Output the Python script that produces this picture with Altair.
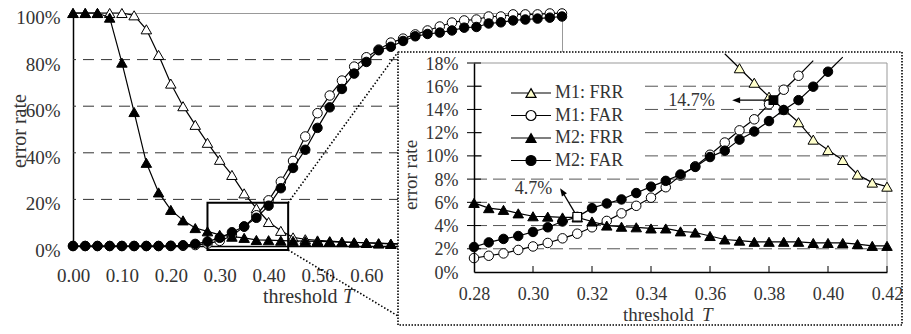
import altair as alt
import pandas as pd

FONT = "Liberation Serif"
TXT = "#333333"

SERIES = ["M1: FRR", "M1: FAR", "M2: FRR", "M2: FAR"]

# ---------------- main chart data (threshold step 0.025) ----------------
T_MAIN = [0.000, 0.025, 0.050, 0.075, 0.100, 0.125, 0.150, 0.175, 0.200, 0.225,
          0.250, 0.275, 0.300, 0.325, 0.350, 0.375, 0.400, 0.425, 0.450, 0.475,
          0.500, 0.525, 0.550, 0.575, 0.600, 0.625, 0.650, 0.675, 0.700, 0.725,
          0.750, 0.775, 0.800, 0.825, 0.850, 0.875, 0.900, 0.925, 0.950, 0.975, 1.000]
M1_FRR_MAIN = [100, 100, 100, 100, 100, 99, 93, 82, 69.7, 60,
               52, 44.3, 37, 30.5, 22.6, 16.2, 10.3, 6.5, 3.7, 2.9,
               2.4, 2.1, 1.8, 1.6, 1.4, 1.2, 1.0, 0.9, 0.8, 0.7,
               0.6, 0.5, 0.5, 0.4, 0.4, 0.3, 0.3, 0.2, 0.2, 0.2, 0.1]
M1_FAR_MAIN = [0, 0, 0, 0, 0, 0, 0, 0, 0, 0.1,
               0.4, 1.0, 2.2, 4.4, 8.3, 13.2, 19.6, 27.6, 36.5, 47,
               57, 64.6, 71, 77, 81, 84.3, 87.3, 89, 90.8, 92.5,
               94.2, 95.9, 96.8, 97.2, 98.5, 98.5, 99.4, 99.4, 99.4, 99.8, 99.8]
M2_FRR_MAIN = [100, 100, 100, 98, 78.7, 57.5, 35.7, 23, 15.5, 11,
               7.7, 6.3, 4.8, 4.0, 3.5, 2.6, 2.5, 2.3, 2.2, 2.1,
               2.0, 1.9, 1.7, 1.5, 1.3, 1.1, 0.9, 0.8, 0.7, 0.6,
               0.5, 0.5, 0.4, 0.4, 0.3, 0.3, 0.2, 0.2, 0.2, 0.1, 0.1]
M2_FAR_MAIN = [0, 0, 0, 0, 0, 0, 0, 0, 0.1, 0.3,
               0.9, 1.9, 3.5, 5.9, 8.4, 12.1, 17.3, 24.8, 33.5, 41.3,
               50.7, 59.5, 67.4, 74, 79, 84, 85.5, 88, 90, 91,
               91.6, 92.5, 93.7, 94, 95.5, 96, 96.8, 97.2, 97.6, 98, 98.5]

# ---------------- inset data (threshold step 0.005) ----------------
T_INSET = [0.280, 0.285, 0.290, 0.295, 0.300, 0.305, 0.310, 0.315, 0.320, 0.325,
           0.330, 0.335, 0.340, 0.345, 0.350, 0.355, 0.360, 0.365, 0.370, 0.375,
           0.380, 0.385, 0.390, 0.395, 0.400, 0.405, 0.410, 0.415, 0.420]
M1_FRR_INSET = [None, None, None, None, None, None, None, None, None, None,
                None, None, None, None, None, None, None, 18.8, 17.55, 16.3,
                15.1, 14.0, 12.9, 11.4, 10.5, 9.65, 8.4, 7.7, 7.35]
M1_FAR_INSET = [1.2, 1.4, 1.6, 1.9, 2.2, 2.5, 2.9, 3.3, 3.85, 4.4,
                5.05, 5.7, 6.4, 7.3, 8.3, 9.1, 10.1, 11.15, 12.2, 13.15,
                14.45, 15.7, 16.9, 18.2, None, None, None, None, None]
M2_FRR_INSET = [5.95, 5.5, 5.35, 5.05, 4.8, 4.77, 4.7, 4.7, 4.35, 4.0,
                3.9, 3.85, 3.75, 3.75, 3.5, 3.4, 3.1, 2.8, 2.7, 2.6,
                2.6, 2.6, 2.6, 2.5, 2.5, 2.5, 2.4, 2.25, 2.25]
M2_FAR_INSET = [2.15, 2.55, 2.85, 3.1, 3.45, 3.85, 4.35, 4.75, 5.5, 5.9,
                6.25, 6.8, 7.35, 7.85, 8.4, 9.05, 9.9, 10.45, 11.4, 12.1,
                13.0, 13.95, 14.8, 15.96, 17.25, 18.5, None, None, None]

# equal error rate points and labels
EER_T = [0.315, 0.3815]
EER_V = [4.75, 14.8]
EER_LABEL = ["4.7%", "14.7%"]
EER_LABEL_T = [0.3002, 0.3537]
EER_LABEL_V = [7.19, 14.69]

# ticks / gridlines
MAIN_X_TICKS = [0.0, 0.1, 0.2, 0.3, 0.4, 0.5, 0.6]
MAIN_Y_TICKS = [0, 20, 40, 60, 80, 100]
MAIN_GRID = [20, 40, 60, 80]
INSET_X_TICKS = [0.28, 0.30, 0.32, 0.34, 0.36, 0.38, 0.40, 0.42]
INSET_Y_TICKS = [0, 2, 4, 6, 8, 10, 12, 14, 16, 18]
INSET_GRID = [2, 4, 6, 8, 10, 12, 14, 16]

# zoom box in main chart coordinates
ZOOM_T = [0.275, 0.44]
ZOOM_V = [-1.7, 18.6]

# ---------------- layout (pixels inside the main view) ----------------
W, H = 489, 233
IX0, IX1 = 401, 814          # inset plot x range
IY0, IY1 = 259, 50           # inset plot y range (0% -> 18%)
BX0, BX1, BY0, BY1 = 325, 829, 39, 312   # inset dotted frame
LX0, LX1, LY0, LY1 = 409, 568, 59, 157   # legend background

xs_main = alt.Scale(domain=[0, 1], nice=False, zero=False)
ys_main = alt.Scale(domain=[0, 100], nice=False, zero=False)
xs_in = alt.Scale(domain=[0.28, 0.42], range=[IX0, IX1], nice=False, zero=False)
ys_in = alt.Scale(domain=[0, 18], range=[IY0, IY1], nice=False, zero=False)

ax_main_x = alt.Axis(orient="bottom", values=MAIN_X_TICKS, format=".2f", ticks=False, grid=False,
                     domainColor="black", domainWidth=1.5, labelFont=FONT, labelFontSize=19,
                     labelColor=TXT, labelPadding=20, labelFlush=False, labelOverlap=False, title=None)
ax_main_y = alt.Axis(orient="left", values=MAIN_Y_TICKS, labelExpr="datum.value + '%'", ticks=False,
                     grid=False, domainColor="black", domainWidth=1.5, labelFont=FONT, labelFontSize=19,
                     labelColor=TXT, labelPadding=13, labelOffset=4.5, labelOverlap=False, title=None)
ax_in_x = alt.Axis(orient="bottom", offset=IY0 - H, values=INSET_X_TICKS, format=".2f", ticks=False,
                   grid=False, domainColor="black", domainWidth=1.5, labelFont=FONT, labelFontSize=18,
                   labelColor=TXT, labelPadding=13, labelFlush=False, labelOverlap=False, title=None, zindex=1)
ax_in_y = alt.Axis(orient="left", offset=-IX0, values=INSET_Y_TICKS, labelExpr="datum.value + '%'",
                   ticks=False, grid=False, domainColor="black", domainWidth=1.5, labelFont=FONT,
                   labelFontSize=18, labelColor=TXT, labelPadding=16, labelOffset=1, labelOverlap=False,
                   title=None, zindex=1)

ONE = pd.DataFrame({"k": [0]})


def series_layers(T, vals, shape, fill, size, xs, ys, ax, ay, ymax=None):
    df = pd.DataFrame({"T": T, "v": vals}).dropna()
    x = alt.X("T:Q", scale=xs, axis=ax)
    y = alt.Y("v:Q", scale=ys, axis=ay)
    line = alt.Chart(df).mark_line(color="black", strokeWidth=1.2).encode(x=x, y=y)
    pdf = df if ymax is None else df[df["v"] <= ymax]
    pts = alt.Chart(pdf).mark_point(shape=shape, filled=True, fill=fill, stroke="black",
                                    strokeWidth=1, size=size, opacity=1).encode(x=x, y=y)
    return [line, pts]


def text_px(s, x, y, size, angle=0, italic=False, align="left", baseline="alphabetic"):
    return alt.Chart(pd.DataFrame({"s": [s]})).mark_text(
        font=FONT, fontSize=size, color=TXT, align=align, baseline=baseline, angle=angle,
        fontStyle="italic" if italic else "normal").encode(
        text="s:N", x=alt.value(x), y=alt.value(y))


SHAPES = ["triangle-up", "circle", "triangle-up", "circle"]
SIZES = [110, 90, 110, 90]
MAIN_FILLS = ["white", "white", "black", "black"]
INSET_FILLS = ["#FFFFCC", "white", "black", "black"]

# ---------------- main chart ----------------
main_layers = [
    alt.Chart(pd.DataFrame({"v": MAIN_GRID})).mark_rule(color="#333", strokeWidth=1, strokeDash=[11, 7])
    .encode(y=alt.Y("v:Q", scale=ys_main, axis=ax_main_y)),
]
for vals, shp, fc, sz in zip([M1_FRR_MAIN, M1_FAR_MAIN, M2_FRR_MAIN, M2_FAR_MAIN], SHAPES, MAIN_FILLS, SIZES):
    main_layers += series_layers(T_MAIN, vals, shp, fc, sz, xs_main, ys_main, ax_main_x, ax_main_y)

zoom_df = pd.DataFrame({"t0": [ZOOM_T[0]], "t1": [ZOOM_T[1]], "v0": [ZOOM_V[0]], "v1": [ZOOM_V[1]]})
main_layers += [
    alt.Chart(zoom_df).mark_rect(fillOpacity=0, stroke="black", strokeWidth=2).encode(
        x=alt.X("t0:Q", scale=xs_main, axis=ax_main_x), x2="t1:Q",
        y=alt.Y("v0:Q", scale=ys_main, axis=ax_main_y), y2="v1:Q"),
    alt.Chart(zoom_df).mark_rule(color="black", strokeWidth=1.6, strokeDash=[1.5, 2]).encode(
        x=alt.X("t1:Q", scale=xs_main, axis=ax_main_x), y=alt.Y("v1:Q", scale=ys_main, axis=ax_main_y),
        x2=alt.value(BX0), y2=alt.value(BY0)),
    alt.Chart(zoom_df).mark_rule(color="black", strokeWidth=1.6, strokeDash=[1.5, 2]).encode(
        x=alt.X("t1:Q", scale=xs_main, axis=ax_main_x), y=alt.Y("v0:Q", scale=ys_main, axis=ax_main_y),
        x2=alt.value(BX0), y2=alt.value(303)),
    text_px("error rate", -53, 118, 20, angle=270, align="center", baseline="middle"),
    text_px("threshold", 190, 290, 20),
    text_px("T", 270, 290, 20, italic=True),
]
main = alt.layer(*main_layers)

# ---------------- inset ----------------
xd = lambda d: alt.XDatum(d, scale=xs_in, axis=ax_in_x)
yd = lambda d: alt.YDatum(d, scale=ys_in, axis=ax_in_y)

inset_layers = [
    alt.Chart(ONE).mark_rect(fill="white", stroke="black", strokeWidth=1.6, strokeDash=[1.5, 1.5]).encode(
        x=alt.value(BX0), x2=alt.value(BX1), y=alt.value(BY0), y2=alt.value(BY1)),
    alt.Chart(pd.DataFrame({"v": INSET_GRID})).mark_rule(color="#555", strokeWidth=1, strokeDash=[13, 6]).encode(
        y=alt.Y("v:Q", scale=ys_in, axis=ax_in_y), x=xd(0.28), x2=alt.X2Datum(0.42)),
    alt.Chart(ONE).mark_rect(fill="white").encode(
        x=alt.value(LX0), x2=alt.value(LX1), y=alt.value(LY0), y2=alt.value(LY1)),
    alt.Chart(ONE).mark_rule(color="#999", strokeWidth=1).encode(
        x=xd(0.28), x2=alt.X2Datum(0.42), y=yd(18)),
    alt.Chart(ONE).mark_rule(color="#999", strokeWidth=1).encode(
        x=xd(0.42), y=yd(0), y2=alt.Y2Datum(18)),
    alt.Chart(pd.DataFrame({"v": INSET_Y_TICKS[1:]})).mark_rule(color="black", strokeWidth=1, xOffset=-7, x2Offset=7)
    .encode(y=alt.Y("v:Q", scale=ys_in, axis=ax_in_y), x=xd(0.28), x2=alt.X2Datum(0.28)),
    alt.Chart(pd.DataFrame({"t": INSET_X_TICKS[1:]})).mark_rule(color="black", strokeWidth=1, y2Offset=-6)
    .encode(x=alt.X("t:Q", scale=xs_in, axis=ax_in_x), y=yd(0), y2=alt.Y2Datum(0)),
]
for vals, shp, fc, sz in zip([M1_FRR_INSET, M1_FAR_INSET, M2_FRR_INSET, M2_FAR_INSET], SHAPES, INSET_FILLS, SIZES):
    inset_layers += series_layers(T_INSET, vals, shp, fc, sz, xs_in, ys_in, ax_in_x, ax_in_y, ymax=18)

ARROW_UP = "M0,-1L0.6,0.6L-0.6,0.6Z"
arrow_df = pd.DataFrame({"t0": [0.3143, 0.3803], "v0": [5.05, 14.8],
                         "t1": [0.3101, 0.3692], "v1": [6.85, 14.8], "ang": [327, 270]})
eer_df = pd.DataFrame({"T": EER_T, "v": EER_V, "lab": EER_LABEL, "lt": EER_LABEL_T, "lv": EER_LABEL_V})

inset_layers += [
    alt.Chart(arrow_df).mark_rule(color="black", strokeWidth=1.3).encode(
        x=alt.X("t0:Q", scale=xs_in, axis=ax_in_x), x2="t1:Q",
        y=alt.Y("v0:Q", scale=ys_in, axis=ax_in_y), y2="v1:Q"),
    alt.Chart(arrow_df).mark_point(shape=ARROW_UP, filled=True, color="black", size=100, opacity=1).encode(
        x=alt.X("t1:Q", scale=xs_in, axis=ax_in_x), y=alt.Y("v1:Q", scale=ys_in, axis=ax_in_y),
        angle=alt.Angle("ang:Q", scale=None)),
    alt.Chart(eer_df.iloc[[0]]).mark_point(shape="square", filled=True, fill="white", stroke="black",
                                          strokeWidth=1.2, size=75, opacity=1).encode(
        x=alt.X("T:Q", scale=xs_in, axis=ax_in_x), y=alt.Y("v:Q", scale=ys_in, axis=ax_in_y)),
    alt.Chart(eer_df.iloc[[1]]).mark_point(shape="square", filled=True, fill="black", stroke="black",
                                          strokeWidth=1.2, size=75, opacity=1).encode(
        x=alt.X("T:Q", scale=xs_in, axis=ax_in_x), y=alt.Y("v:Q", scale=ys_in, axis=ax_in_y)),
    alt.Chart(eer_df).mark_text(font=FONT, fontSize=18, color=TXT, align="center", baseline="middle").encode(
        x=alt.X("lt:Q", scale=xs_in, axis=ax_in_x), y=alt.Y("lv:Q", scale=ys_in, axis=ax_in_y), text="lab:N"),
    text_px("error rate", 338, 162, 19, angle=270, align="center", baseline="middle"),
    text_px("threshold", 550, 308, 19),
    text_px("T", 629, 308, 19, italic=True),
]

# legend (line + marker symbols), driven by the series names
LEGEND_PATHS = [
    "M-4,0L-0.5,0M0.5,0L4,0M0,-0.866L1,0.866L-1,0.866Z",
    "M-4,0L-1,0M1,0L4,0M-1,0A1,1,0,1,0,1,0A1,1,0,1,0,-1,0Z",
    "M-4,0L-0.5,0M0.5,0L4,0M0,-0.866L1,0.866L-1,0.866Z",
    "M-4,0L-1,0M1,0L4,0M-1,0A1,1,0,1,0,1,0A1,1,0,1,0,-1,0Z",
]
leg = alt.Legend(orient="none", legendX=435, legendY=71, title=None, labelFont=FONT, labelFontSize=18,
                 labelColor=TXT, symbolSize=100, symbolStrokeColor="black", symbolStrokeWidth=1.2,
                 symbolOffset=14, labelOffset=15, rowPadding=4.5, padding=0, zindex=1)
inset_layers.append(
    alt.Chart(pd.DataFrame({"series": SERIES})).transform_filter("false")
    .mark_point(filled=True, size=100, strokeWidth=1.2, opacity=1)
    .encode(shape=alt.Shape("series:N", scale=alt.Scale(domain=SERIES, range=LEGEND_PATHS), legend=leg),
            fill=alt.Fill("series:N", scale=alt.Scale(domain=SERIES, range=INSET_FILLS), legend=leg),
            stroke=alt.Stroke("series:N", scale=alt.Scale(domain=SERIES, range=["black"] * 4), legend=leg))
)
inset = alt.layer(*inset_layers)

chart = (
    alt.layer(main, inset)
    .resolve_scale(x="independent", y="independent")
    .properties(width=W, height=H, autosize=alt.AutoSizeParams(type="none"),
                padding={"left": 65, "top": 5, "right": 341, "bottom": 80})
    .configure_view(stroke="#999", strokeWidth=1)
)

chart.save("out.html", embed_options={"renderer": "svg", "actions": False})
